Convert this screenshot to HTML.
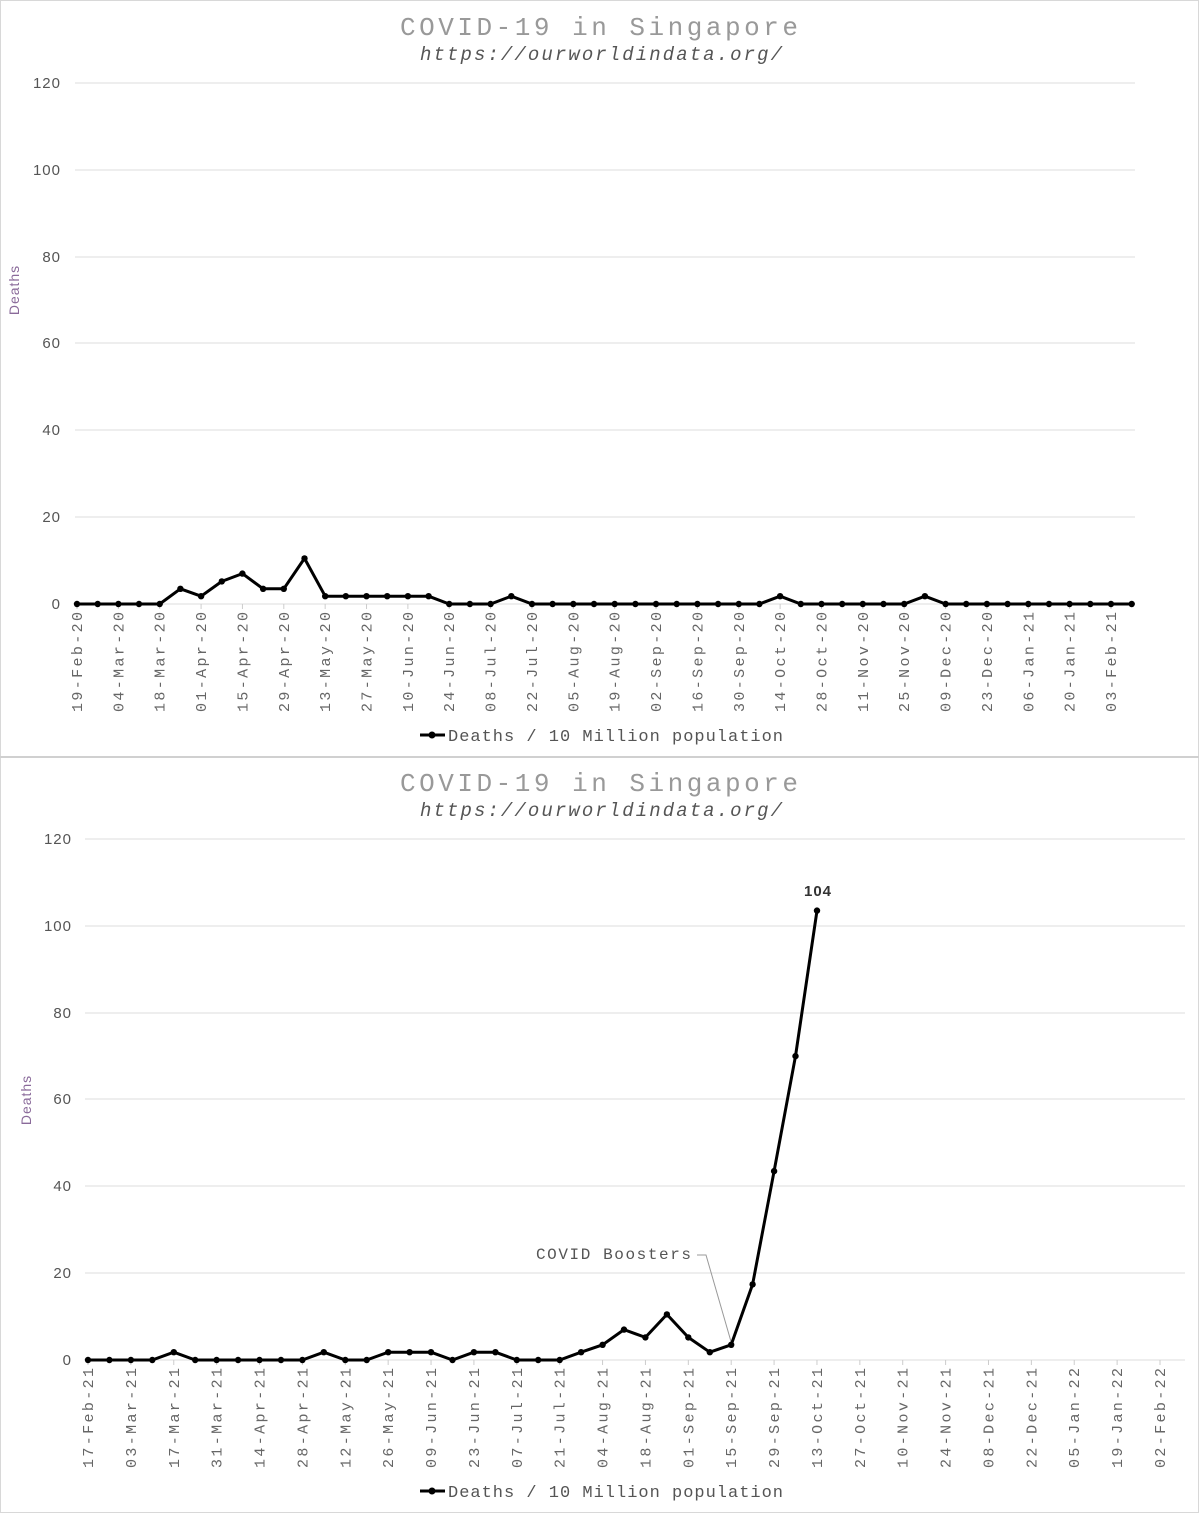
<!DOCTYPE html>
<html><head><meta charset="utf-8"><style>
html,body{margin:0;padding:0;background:#fff}
svg{display:block}
.t{font-family:"Liberation Mono",monospace;fill:#999;font-size:26px}
.s{font-family:"Liberation Mono",monospace;font-style:italic;fill:#555;font-size:19px}
.y{font-family:"Liberation Sans",sans-serif;fill:#555;font-size:15px;letter-spacing:1px}
.x{font-family:"Liberation Mono",monospace;fill:#666;font-size:15px}
.lg{font-family:"Liberation Mono",monospace;fill:#555;font-size:17px}
.at{font-family:"Liberation Mono",monospace;fill:#555;font-size:16px}
.yt{font-family:"Liberation Sans",sans-serif;fill:#8a6a9a;font-size:14px;letter-spacing:1px}
.g{stroke:#ddd;stroke-width:1}
</style></head><body>
<svg width="1199" height="1513" xmlns="http://www.w3.org/2000/svg">
<rect x="0.5" y="0.5" width="1198" height="1512" fill="#fff" stroke="#d8d8d8"/>
<line x1="0" y1="757" x2="1199" y2="757" stroke="#d0d0d0" stroke-width="2"/>

<!-- CHART 1 -->
<text class="t" x="599" y="35" text-anchor="middle" textLength="398">COVID-19 in Singapore</text>
<text class="s" x="601" y="60" text-anchor="middle" textLength="362">https://ourworldindata.org/</text>
<g class="g">
<line x1="75" y1="83" x2="1135" y2="83"/><line x1="75" y1="170" x2="1135" y2="170"/><line x1="75" y1="257" x2="1135" y2="257"/><line x1="75" y1="343" x2="1135" y2="343"/><line x1="75" y1="430" x2="1135" y2="430"/><line x1="75" y1="517" x2="1135" y2="517"/><line x1="75" y1="604" x2="1135" y2="604"/>
</g>
<g class="y" text-anchor="end">
<text x="61" y="88">120</text><text x="61" y="175">100</text><text x="61" y="262">80</text><text x="61" y="348">60</text><text x="61" y="435">40</text><text x="61" y="522">20</text><text x="61" y="609">0</text>
</g>
<text class="yt" transform="translate(19,290) rotate(-90)" text-anchor="middle">Deaths</text>
<g id="tk1" stroke="#ccc"></g>
<g class="x" text-anchor="end">
<text transform="translate(82,612) rotate(-90)" textLength="100">19-Feb-20</text>
<text transform="translate(123.4,612) rotate(-90)" textLength="100">04-Mar-20</text>
<text transform="translate(164.7,612) rotate(-90)" textLength="100">18-Mar-20</text>
<text transform="translate(206.1,612) rotate(-90)" textLength="100">01-Apr-20</text>
<text transform="translate(247.4,612) rotate(-90)" textLength="100">15-Apr-20</text>
<text transform="translate(288.8,612) rotate(-90)" textLength="100">29-Apr-20</text>
<text transform="translate(330.2,612) rotate(-90)" textLength="100">13-May-20</text>
<text transform="translate(371.5,612) rotate(-90)" textLength="100">27-May-20</text>
<text transform="translate(412.9,612) rotate(-90)" textLength="100">10-Jun-20</text>
<text transform="translate(454.2,612) rotate(-90)" textLength="100">24-Jun-20</text>
<text transform="translate(495.6,612) rotate(-90)" textLength="100">08-Jul-20</text>
<text transform="translate(537,612) rotate(-90)" textLength="100">22-Jul-20</text>
<text transform="translate(578.3,612) rotate(-90)" textLength="100">05-Aug-20</text>
<text transform="translate(619.7,612) rotate(-90)" textLength="100">19-Aug-20</text>
<text transform="translate(661,612) rotate(-90)" textLength="100">02-Sep-20</text>
<text transform="translate(702.4,612) rotate(-90)" textLength="100">16-Sep-20</text>
<text transform="translate(743.8,612) rotate(-90)" textLength="100">30-Sep-20</text>
<text transform="translate(785.1,612) rotate(-90)" textLength="100">14-Oct-20</text>
<text transform="translate(826.5,612) rotate(-90)" textLength="100">28-Oct-20</text>
<text transform="translate(867.8,612) rotate(-90)" textLength="100">11-Nov-20</text>
<text transform="translate(909.2,612) rotate(-90)" textLength="100">25-Nov-20</text>
<text transform="translate(950.6,612) rotate(-90)" textLength="100">09-Dec-20</text>
<text transform="translate(991.9,612) rotate(-90)" textLength="100">23-Dec-20</text>
<text transform="translate(1033.3,612) rotate(-90)" textLength="100">06-Jan-21</text>
<text transform="translate(1074.6,612) rotate(-90)" textLength="100">20-Jan-21</text>
<text transform="translate(1116,612) rotate(-90)" textLength="100">03-Feb-21</text>
</g>
<g id="s1"></g>
<line x1="420" y1="735" x2="445" y2="735" stroke="#000" stroke-width="3"/><circle cx="432" cy="735" r="3.5"/>
<text class="lg" x="448" y="741" textLength="335">Deaths / 10 Million population</text>

<!-- CHART 2 -->
<text class="t" x="599" y="791" text-anchor="middle" textLength="398">COVID-19 in Singapore</text>
<text class="s" x="601" y="816" text-anchor="middle" textLength="362">https://ourworldindata.org/</text>
<g class="g">
<line x1="85" y1="839" x2="1185" y2="839"/><line x1="85" y1="926" x2="1185" y2="926"/><line x1="85" y1="1013" x2="1185" y2="1013"/><line x1="85" y1="1099" x2="1185" y2="1099"/><line x1="85" y1="1186" x2="1185" y2="1186"/><line x1="85" y1="1273" x2="1185" y2="1273"/><line x1="85" y1="1360" x2="1185" y2="1360"/>
</g>
<g class="y" text-anchor="end">
<text x="72" y="844">120</text><text x="72" y="931">100</text><text x="72" y="1018">80</text><text x="72" y="1104">60</text><text x="72" y="1191">40</text><text x="72" y="1278">20</text><text x="72" y="1365">0</text>
</g>
<text class="yt" transform="translate(31,1100) rotate(-90)" text-anchor="middle">Deaths</text>
<g id="tk2" stroke="#ccc"></g>
<g class="x" text-anchor="end">
<text transform="translate(93,1368) rotate(-90)" textLength="100">17-Feb-21</text>
<text transform="translate(135.9,1368) rotate(-90)" textLength="100">03-Mar-21</text>
<text transform="translate(178.8,1368) rotate(-90)" textLength="100">17-Mar-21</text>
<text transform="translate(221.6,1368) rotate(-90)" textLength="100">31-Mar-21</text>
<text transform="translate(264.5,1368) rotate(-90)" textLength="100">14-Apr-21</text>
<text transform="translate(307.4,1368) rotate(-90)" textLength="100">28-Apr-21</text>
<text transform="translate(350.3,1368) rotate(-90)" textLength="100">12-May-21</text>
<text transform="translate(393.2,1368) rotate(-90)" textLength="100">26-May-21</text>
<text transform="translate(436,1368) rotate(-90)" textLength="100">09-Jun-21</text>
<text transform="translate(478.9,1368) rotate(-90)" textLength="100">23-Jun-21</text>
<text transform="translate(521.8,1368) rotate(-90)" textLength="100">07-Jul-21</text>
<text transform="translate(564.7,1368) rotate(-90)" textLength="100">21-Jul-21</text>
<text transform="translate(607.6,1368) rotate(-90)" textLength="100">04-Aug-21</text>
<text transform="translate(650.4,1368) rotate(-90)" textLength="100">18-Aug-21</text>
<text transform="translate(693.3,1368) rotate(-90)" textLength="100">01-Sep-21</text>
<text transform="translate(736.2,1368) rotate(-90)" textLength="100">15-Sep-21</text>
<text transform="translate(779.1,1368) rotate(-90)" textLength="100">29-Sep-21</text>
<text transform="translate(822,1368) rotate(-90)" textLength="100">13-Oct-21</text>
<text transform="translate(864.8,1368) rotate(-90)" textLength="100">27-Oct-21</text>
<text transform="translate(907.7,1368) rotate(-90)" textLength="100">10-Nov-21</text>
<text transform="translate(950.6,1368) rotate(-90)" textLength="100">24-Nov-21</text>
<text transform="translate(993.5,1368) rotate(-90)" textLength="100">08-Dec-21</text>
<text transform="translate(1036.4,1368) rotate(-90)" textLength="100">22-Dec-21</text>
<text transform="translate(1079.2,1368) rotate(-90)" textLength="100">05-Jan-22</text>
<text transform="translate(1122.1,1368) rotate(-90)" textLength="100">19-Jan-22</text>
<text transform="translate(1165,1368) rotate(-90)" textLength="100">02-Feb-22</text>
</g>
<polyline points="697,1255 706,1255 732,1345" fill="none" stroke="#999" stroke-width="1"/>
<text class="at" x="691" y="1259" text-anchor="end" textLength="155">COVID Boosters</text>
<text class="at" x="818" y="896" text-anchor="middle" font-weight="bold" style="font-family:'Liberation Sans',sans-serif;font-size:15px;letter-spacing:1px;fill:#333">104</text>
<g id="s2"></g>
<line x1="420" y1="1491" x2="445" y2="1491" stroke="#000" stroke-width="3"/><circle cx="432" cy="1491" r="3.5"/>
<text class="lg" x="448" y="1497" textLength="335">Deaths / 10 Million population</text>
</svg>
<script>
var NS="http://www.w3.org/2000/svg";
function draw(id,x0,dx,y0,vals){
 var g=document.getElementById(id),pts=[];
 vals.forEach(function(v,i){pts.push((x0+i*dx).toFixed(1)+","+(y0-v*4.342).toFixed(1));});
 var p=document.createElementNS(NS,"polyline");p.setAttribute("points",pts.join(" "));
 p.setAttribute("fill","none");p.setAttribute("stroke","#000");p.setAttribute("stroke-width","3");p.setAttribute("stroke-linejoin","round");g.appendChild(p);
 pts.forEach(function(s){var a=s.split(","),c=document.createElementNS(NS,"circle");c.setAttribute("cx",a[0]);c.setAttribute("cy",a[1]);c.setAttribute("r","3.2");g.appendChild(c);});
}
function ticks(id,x0,dx,y,n){var g=document.getElementById(id);for(var i=0;i<n;i++){var l=document.createElementNS(NS,"line");var x=x0+i*dx*2;l.setAttribute("x1",x);l.setAttribute("x2",x);l.setAttribute("y1",y);l.setAttribute("y2",y+5);g.appendChild(l);}}
var a=new Array(52).fill(0);
a[5]=3.5;a[6]=1.8;a[7]=5.2;a[8]=7;a[9]=3.5;a[10]=3.5;a[11]=10.5;for(var i=12;i<=17;i++)a[i]=1.8;a[21]=1.8;a[34]=1.8;a[41]=1.8;
draw("s1",77,20.68,604,a);ticks("tk1",77,20.68,604,26);
var b=new Array(35).fill(0);
[4,11,14,15,16,18,19,23,29].forEach(function(i){b[i]=1.8;});
b[24]=3.5;b[25]=7;b[26]=5.2;b[27]=10.5;b[28]=5.2;b[30]=3.5;b[31]=17.4;b[32]=43.5;b[33]=70;b[34]=103.5;
draw("s2",88,21.44,1360,b);ticks("tk2",88,21.44,1360,26);
</script>
</body></html>
